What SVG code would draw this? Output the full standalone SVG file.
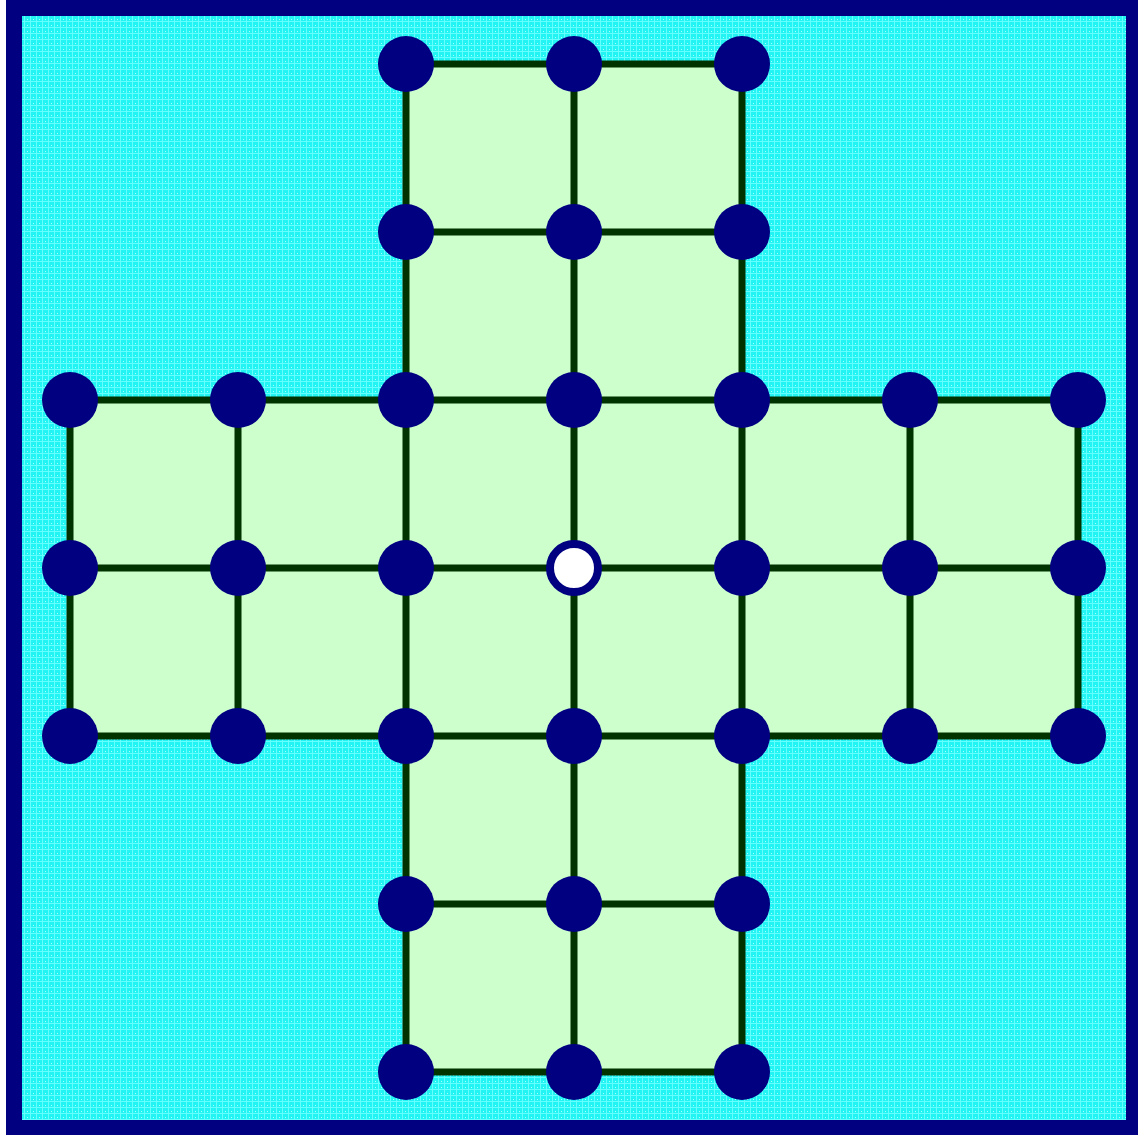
<svg xmlns="http://www.w3.org/2000/svg" width="1138" height="1135" viewBox="0 0 1138 1135">
<style>
.peg{fill:#000080}
.hole{fill:#ffffff;stroke:#000080;stroke-width:8}
.ln{stroke:#003300;stroke-width:7;fill:none}
</style>
<defs>
<pattern id="tex" width="6" height="6" patternUnits="userSpaceOnUse">
<rect width="6" height="6" fill="#22f4f4"/>
<rect x="0" y="0" width="1" height="6" fill="#66ffff"/>
<rect x="0" y="3" width="6" height="1" fill="#66ffff"/>
<rect x="3" y="1" width="1" height="1" fill="#aaffff"/>
</pattern>
</defs>
<rect width="1138" height="1135" fill="#ffffff"/>
<rect x="14" y="8" width="1120" height="1120" fill="url(#tex)" stroke="#000080" stroke-width="16"/>
<polygon points="406,64 742,64 742,400 1078,400 1078,736 742,736 742,1072 406,1072 406,736 70,736 70,400 406,400" fill="#ccffcc"/>
<g id="connectors" class="ln">
<line x1="406" y1="64" x2="742" y2="64"/>
<line x1="406" y1="232" x2="742" y2="232"/>
<line x1="70" y1="400" x2="1078" y2="400"/>
<line x1="70" y1="568" x2="1078" y2="568"/>
<line x1="70" y1="736" x2="1078" y2="736"/>
<line x1="406" y1="904" x2="742" y2="904"/>
<line x1="406" y1="1072" x2="742" y2="1072"/>
<line x1="70" y1="400" x2="70" y2="736"/>
<line x1="238" y1="400" x2="238" y2="736"/>
<line x1="406" y1="64" x2="406" y2="1072"/>
<line x1="574" y1="64" x2="574" y2="1072"/>
<line x1="742" y1="64" x2="742" y2="1072"/>
<line x1="910" y1="400" x2="910" y2="736"/>
<line x1="1078" y1="400" x2="1078" y2="736"/>
</g>
<g id="n-406-64"><circle class="peg" cx="406" cy="64" r="28"/></g>
<g id="n-574-64"><circle class="peg" cx="574" cy="64" r="28"/></g>
<g id="n-742-64"><circle class="peg" cx="742" cy="64" r="28"/></g>
<g id="n-406-232"><circle class="peg" cx="406" cy="232" r="28"/></g>
<g id="n-574-232"><circle class="peg" cx="574" cy="232" r="28"/></g>
<g id="n-742-232"><circle class="peg" cx="742" cy="232" r="28"/></g>
<g id="n-70-400"><circle class="peg" cx="70" cy="400" r="28"/></g>
<g id="n-238-400"><circle class="peg" cx="238" cy="400" r="28"/></g>
<g id="n-406-400"><circle class="peg" cx="406" cy="400" r="28"/></g>
<g id="n-574-400"><circle class="peg" cx="574" cy="400" r="28"/></g>
<g id="n-742-400"><circle class="peg" cx="742" cy="400" r="28"/></g>
<g id="n-910-400"><circle class="peg" cx="910" cy="400" r="28"/></g>
<g id="n-1078-400"><circle class="peg" cx="1078" cy="400" r="28"/></g>
<g id="n-70-568"><circle class="peg" cx="70" cy="568" r="28"/></g>
<g id="n-238-568"><circle class="peg" cx="238" cy="568" r="28"/></g>
<g id="n-406-568"><circle class="peg" cx="406" cy="568" r="28"/></g>
<g id="n-574-568"><circle class="hole" cx="574" cy="568" r="24"/></g>
<g id="n-742-568"><circle class="peg" cx="742" cy="568" r="28"/></g>
<g id="n-910-568"><circle class="peg" cx="910" cy="568" r="28"/></g>
<g id="n-1078-568"><circle class="peg" cx="1078" cy="568" r="28"/></g>
<g id="n-70-736"><circle class="peg" cx="70" cy="736" r="28"/></g>
<g id="n-238-736"><circle class="peg" cx="238" cy="736" r="28"/></g>
<g id="n-406-736"><circle class="peg" cx="406" cy="736" r="28"/></g>
<g id="n-574-736"><circle class="peg" cx="574" cy="736" r="28"/></g>
<g id="n-742-736"><circle class="peg" cx="742" cy="736" r="28"/></g>
<g id="n-910-736"><circle class="peg" cx="910" cy="736" r="28"/></g>
<g id="n-1078-736"><circle class="peg" cx="1078" cy="736" r="28"/></g>
<g id="n-406-904"><circle class="peg" cx="406" cy="904" r="28"/></g>
<g id="n-574-904"><circle class="peg" cx="574" cy="904" r="28"/></g>
<g id="n-742-904"><circle class="peg" cx="742" cy="904" r="28"/></g>
<g id="n-406-1072"><circle class="peg" cx="406" cy="1072" r="28"/></g>
<g id="n-574-1072"><circle class="peg" cx="574" cy="1072" r="28"/></g>
<g id="n-742-1072"><circle class="peg" cx="742" cy="1072" r="28"/></g>
</svg>
